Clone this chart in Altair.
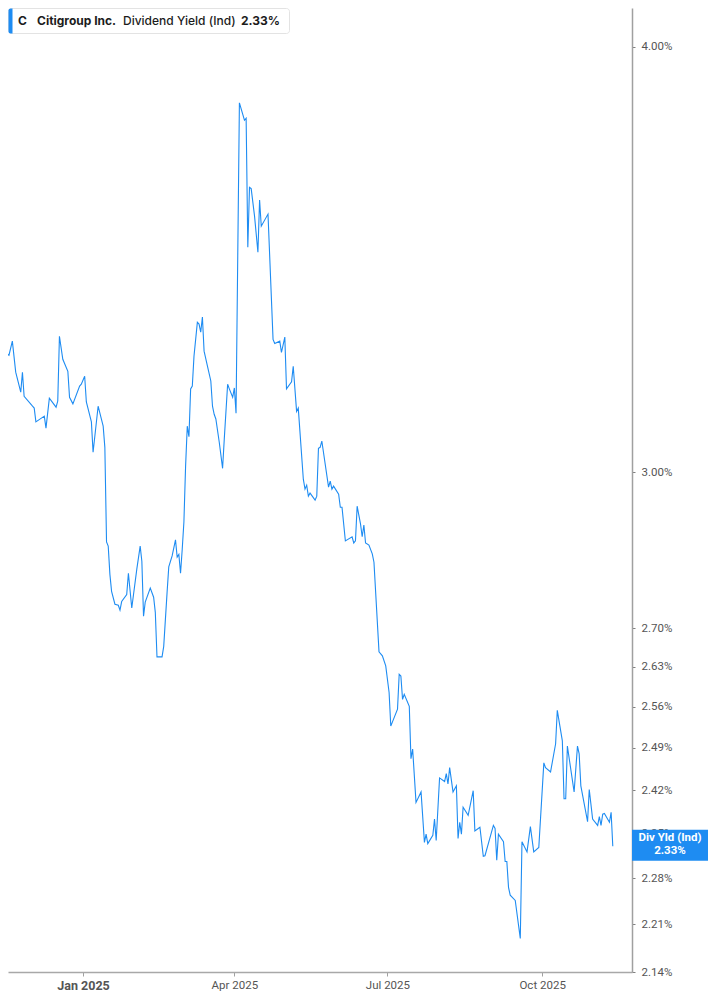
import altair as alt
import pandas as pd

dates = [
    "2024-11-13", "2024-11-14", "2024-11-15", "2024-11-18", "2024-11-20", "2024-11-22", "2024-11-25", "2024-11-26", "2024-11-27", "2024-12-02",
    "2024-12-03", "2024-12-04", "2024-12-09", "2024-12-10", "2024-12-12", "2024-12-16", "2024-12-17", "2024-12-18", "2024-12-20", "2024-12-23",
    "2024-12-24", "2024-12-26", "2024-12-30", "2024-12-31", "2025-01-02", "2025-01-03", "2025-01-06", "2025-01-07", "2025-01-10", "2025-01-13",
    "2025-01-14", "2025-01-15", "2025-01-16", "2025-01-17", "2025-01-18", "2025-01-20", "2025-01-22", "2025-01-23", "2025-01-24", "2025-01-27",
    "2025-01-28", "2025-01-30", "2025-02-02", "2025-02-04", "2025-02-05", "2025-02-06", "2025-02-07", "2025-02-10", "2025-02-12", "2025-02-13",
    "2025-02-14", "2025-02-17", "2025-02-18", "2025-02-20", "2025-02-21", "2025-02-23", "2025-02-25", "2025-02-26", "2025-02-27", "2025-02-28",
    "2025-03-01", "2025-03-02", "2025-03-03", "2025-03-04", "2025-03-05", "2025-03-06", "2025-03-07", "2025-03-08", "2025-03-10", "2025-03-11",
    "2025-03-12", "2025-03-13", "2025-03-14", "2025-03-16", "2025-03-18", "2025-03-19", "2025-03-20", "2025-03-21", "2025-03-23", "2025-03-25",
    "2025-03-26", "2025-03-28", "2025-03-29", "2025-03-31", "2025-04-01", "2025-04-02", "2025-04-04", "2025-04-06", "2025-04-07", "2025-04-08",
    "2025-04-09", "2025-04-10", "2025-04-11", "2025-04-13", "2025-04-15", "2025-04-16", "2025-04-17", "2025-04-21", "2025-04-24", "2025-04-25",
    "2025-04-28", "2025-04-29", "2025-05-01", "2025-05-02", "2025-05-05", "2025-05-06", "2025-05-08", "2025-05-09", "2025-05-12", "2025-05-13",
    "2025-05-14", "2025-05-15", "2025-05-16", "2025-05-19", "2025-05-20", "2025-05-21", "2025-05-22", "2025-05-23", "2025-05-27", "2025-05-28",
    "2025-05-29", "2025-05-30", "2025-06-02", "2025-06-03", "2025-06-04", "2025-06-06", "2025-06-10", "2025-06-11", "2025-06-12", "2025-06-13",
    "2025-06-15", "2025-06-16", "2025-06-17", "2025-06-18", "2025-06-20", "2025-06-22", "2025-06-23", "2025-06-26", "2025-06-28", "2025-06-30",
    "2025-07-02", "2025-07-03", "2025-07-07", "2025-07-08", "2025-07-09", "2025-07-10", "2025-07-11", "2025-07-14", "2025-07-15", "2025-07-16",
    "2025-07-18", "2025-07-21", "2025-07-23", "2025-07-24", "2025-07-25", "2025-07-28", "2025-07-29", "2025-07-30", "2025-08-01", "2025-08-04",
    "2025-08-05", "2025-08-06", "2025-08-07", "2025-08-09", "2025-08-11", "2025-08-12", "2025-08-13", "2025-08-14", "2025-08-15", "2025-08-18",
    "2025-08-21", "2025-08-22", "2025-08-25", "2025-08-27", "2025-08-28", "2025-09-02", "2025-09-03", "2025-09-04", "2025-09-05", "2025-09-08",
    "2025-09-09", "2025-09-10", "2025-09-11", "2025-09-12", "2025-09-15", "2025-09-18", "2025-09-19", "2025-09-22", "2025-09-24", "2025-09-26",
    "2025-09-29", "2025-10-02", "2025-10-03", "2025-10-06", "2025-10-09", "2025-10-10", "2025-10-13", "2025-10-14", "2025-10-15", "2025-10-16",
    "2025-10-20", "2025-10-22", "2025-10-23", "2025-10-24", "2025-10-28", "2025-10-29", "2025-10-31", "2025-11-03", "2025-11-04", "2025-11-05",
    "2025-11-06", "2025-11-07", "2025-11-10", "2025-11-11", "2025-11-12",
]

yields = [
    3.254, 3.287, 3.256, 3.247, 3.278, 3.210, 3.167, 3.210, 3.158, 3.137,
    3.133, 3.104, 3.116, 3.091, 3.154, 3.135, 3.148, 3.289, 3.238, 3.212,
    3.156, 3.142, 3.180, 3.184, 3.201, 3.146, 3.104, 3.041, 3.137, 3.095,
    3.051, 2.862, 2.854, 2.800, 2.768, 2.744, 2.742, 2.733, 2.749, 2.762,
    2.802, 2.737, 2.810, 2.854, 2.825, 2.722, 2.748, 2.774, 2.757, 2.729,
    2.648, 2.648, 2.667, 2.766, 2.814, 2.835, 2.866, 2.833, 2.838, 2.802,
    2.848, 2.901, 3.012, 3.095, 3.073, 3.174, 3.180, 3.245, 3.320, 3.316,
    3.298, 3.332, 3.256, 3.223, 3.191, 3.137, 3.120, 3.110, 3.062, 3.008,
    3.068, 3.184, 3.174, 3.156, 3.176, 3.122, 3.851, 3.821, 3.806, 3.811,
    3.493, 3.637, 3.634, 3.567, 3.481, 3.606, 3.543, 3.572, 3.282, 3.273,
    3.278, 3.253, 3.287, 3.174, 3.189, 3.223, 3.126, 3.133, 2.986, 2.966,
    2.974, 2.952, 2.958, 2.944, 2.952, 3.049, 3.051, 3.064, 2.970, 2.982,
    2.966, 2.972, 2.956, 2.930, 2.930, 2.864, 2.872, 2.860, 2.864, 2.932,
    2.897, 2.872, 2.895, 2.860, 2.856, 2.839, 2.823, 2.657, 2.650, 2.632,
    2.585, 2.527, 2.556, 2.617, 2.614, 2.573, 2.582, 2.561, 2.472, 2.488,
    2.400, 2.417, 2.336, 2.349, 2.334, 2.347, 2.373, 2.339, 2.440, 2.434,
    2.447, 2.430, 2.457, 2.417, 2.427, 2.342, 2.368, 2.349, 2.392, 2.379,
    2.419, 2.354, 2.360, 2.314, 2.315, 2.363, 2.358, 2.308, 2.349, 2.337,
    2.306, 2.306, 2.266, 2.254, 2.246, 2.189, 2.337, 2.321, 2.361, 2.321,
    2.328, 2.465, 2.457, 2.450, 2.497, 2.554, 2.502, 2.406, 2.406, 2.493,
    2.417, 2.493, 2.480, 2.427, 2.369, 2.421, 2.373, 2.363, 2.377, 2.363,
    2.381, 2.382, 2.368, 2.384, 2.330,
]

y_ticks = [2.14, 2.21, 2.28, 2.35, 2.42, 2.49, 2.56, 2.63, 2.70, 3.00, 4.00]
x_tick_months = [1, 4, 7, 10]
header_texts = ["C", "Citigroup Inc.", "Dividend Yield (Ind)", "2.33%"]
tag_texts = ["Div Yld (Ind)", "2.33%"]

LINE = "#1e8cf2"
W, H = 624, 964
TAG_W = 76

df = pd.DataFrame({"date": dates, "yield": yields})
last = df.tail(1)
one = pd.DataFrame({"k": [0]})

xscale = alt.Scale(
    type="utc",
    domain=[
        alt.DateTime(year=2024, month=11, date=17, hours=10, utc=True),
        alt.DateTime(year=2025, month=11, date=23, hours=10, utc=True),
    ],
)
yscale = alt.Scale(type="log", domain=[2.14, 4.106], nice=False, zero=False)

x_axis = alt.Axis(
    values=[alt.DateTime(year=2025, month=m, date=1, utc=True) for m in x_tick_months],
    labelExpr="utcFormat(datum.value, '%b %Y')",
    labelFontWeight={"condition": {"test": "utcmonth(datum.value) === 0", "value": "bold"}, "value": "normal"},
    labelFontSize={"condition": {"test": "utcmonth(datum.value) === 0", "value": 12.5}, "value": 11.5},
    tickSize=4,
    labelPadding=3,
    grid=False,
    domainColor="#a8a8a8",
    domainWidth=1.5,
    tickColor="#a0a0a0",
    labelColor="#555555",
    labelFont="Roboto",
    title=None,
    zindex=0,
)
y_axis = alt.Axis(
    orient="right",
    values=y_ticks,
    labelExpr="format(datum.value, '.2f') + '%'",
    tickSize=3,
    labelPadding=6,
    grid=False,
    domainColor="#a0a0a0",
    domainWidth=1.5,
    tickColor="#808080",
    labelColor="#555555",
    labelFont="Roboto",
    labelFontSize=11.5,
    title=None,
    zindex=0,
)

x_enc = alt.X("date:T", scale=xscale, axis=x_axis)
y_enc = alt.Y("yield:Q", scale=yscale, axis=y_axis)

line = alt.Chart(df).mark_line(color=LINE, strokeWidth=1.1, clip=True).encode(x=x_enc, y=y_enc)

tag_box = alt.Chart(last).mark_rect(color=LINE, yOffset=-16.5, y2Offset=14.5).encode(
    x=alt.value(W), x2=alt.value(W + TAG_W), y=y_enc, y2=alt.Y2("yield")
)
tag_t1 = alt.Chart(last).mark_text(
    color="white", font="Roboto", fontWeight="bold", fontSize=11.5, dy=-8.5, align="center", baseline="middle"
).encode(x=alt.value(W + TAG_W / 2), y=y_enc, text=alt.value(tag_texts[0]))
tag_t2 = alt.Chart(last).mark_text(
    color="white", font="Roboto", fontWeight="bold", fontSize=11.5, dy=4.5, align="center", baseline="middle"
).encode(x=alt.value(W + TAG_W / 2), y=y_enc, text=alt.value(tag_texts[1]))

hbox = alt.Chart(one).mark_rect(fill="white", stroke="#e3e3e3", strokeWidth=1, cornerRadius=3).encode(
    x=alt.value(0.5), x2=alt.value(281.5), y=alt.value(0.5), y2=alt.value(25.5)
)
hbar = alt.Chart(one).mark_rect(fill=LINE, cornerRadiusTopLeft=3, cornerRadiusBottomLeft=3).encode(
    x=alt.value(0.5), x2=alt.value(4.5), y=alt.value(0.5), y2=alt.value(25.5)
)


def htext(i, xpos, weight):
    return alt.Chart(one).mark_text(
        font="Inter", fontSize=12, fontWeight=weight, color="#1c1c1c", align="left", baseline="middle"
    ).encode(x=alt.value(xpos), y=alt.value(13), text=alt.value(header_texts[i]))


h1 = htext(0, 10, "bold")
h2 = htext(1, 29, "bold")
h3 = htext(2, 115, 500)
h4 = htext(3, 233, "bold")

chart = (
    alt.layer(line, tag_box, tag_t1, tag_t2, hbox, hbar, h1, h2, h3, h4)
    .properties(width=W, height=H, padding=0, background="white")
    .configure_view(stroke=None)
)

chart.save("out.html", embed_options={"renderer": "svg", "actions": False})
